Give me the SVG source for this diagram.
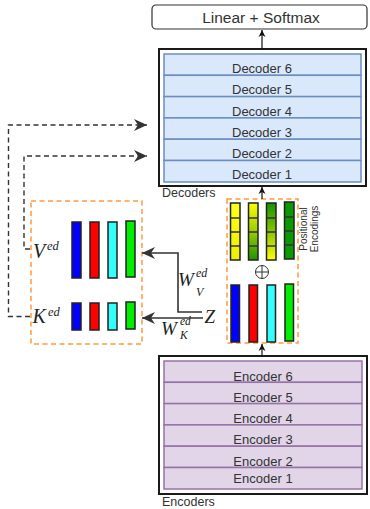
<svg xmlns="http://www.w3.org/2000/svg" width="370" height="509" viewBox="0 0 370 509">
  <defs>
    <style>
      .lbl { font-family: "Liberation Sans", Arial, sans-serif; fill: #333333; }
      .row { font-family: "Liberation Sans", Arial, sans-serif; font-size: 13px; fill: #333333; text-anchor: middle; }
      .math { font-family: "Liberation Serif", "Times New Roman", serif; font-style: italic; fill: #222222; }
      .outer { fill: #ffffff; stroke: #1a1a1a; stroke-width: 2; }
      .dec { fill: #dae8fc; stroke: #6c8ebf; stroke-width: 1.5; }
      .enc { fill: #e1d5e7; stroke: #9673a6; stroke-width: 1.5; }
      .grp { fill: none; stroke: #ff9a3c; stroke-width: 1.5; stroke-dasharray: 5 3.5; }
      .bar { stroke: #222222; stroke-width: 1.5; }
      .cell { stroke: #333333; stroke-width: 1.5; }
      .dash { fill: none; stroke: #333333; stroke-width: 1.4; stroke-dasharray: 5 3.5; }
      .solid { fill: none; stroke: #333333; stroke-width: 1.6; }
      .thin { fill: none; stroke: #111111; stroke-width: 1.2; }
    </style>
    <marker id="bigHead" markerUnits="userSpaceOnUse" markerWidth="14" markerHeight="12" refX="13" refY="6" orient="auto">
      <path d="M0,0 L13,6 L0,12 L4,6 Z" fill="#333333"/>
    </marker>
    <marker id="smallHead" markerUnits="userSpaceOnUse" markerWidth="8" markerHeight="8" refX="7" refY="4" orient="auto">
      <path d="M0,0.5 L7,4 L0,7.5 L2,4 Z" fill="#111111"/>
    </marker>
    <linearGradient id="gYellow" x1="0" y1="0" x2="0" y2="1">
      <stop offset="0" stop-color="#ffff1a"/>
      <stop offset="1" stop-color="#eeee00"/>
    </linearGradient>
    <linearGradient id="gYtoG" x1="0" y1="0" x2="0" y2="1">
      <stop offset="0" stop-color="#ffff00"/>
      <stop offset="0.5" stop-color="#99cc00"/>
      <stop offset="1" stop-color="#1f9400"/>
    </linearGradient>
    <linearGradient id="gGtoY" x1="0" y1="0" x2="0" y2="1">
      <stop offset="0" stop-color="#139400"/>
      <stop offset="0.5" stop-color="#88c400"/>
      <stop offset="1" stop-color="#ffff00"/>
    </linearGradient>
  </defs>

  <!-- output head -->
  <g id="linear-softmax">
    <rect x="152" y="5" width="215" height="24" rx="4" fill="#ffffff" stroke="#333333" stroke-width="1.2"/>
    <text class="lbl" x="261" y="23" font-size="15.5" text-anchor="middle">Linear + Softmax</text>
  </g>

  <!-- decoder stack -->
  <g id="decoders">
    <rect class="outer" x="159" y="49" width="207" height="137"/>
    <rect class="dec" x="164" y="54" width="197" height="21.3"/>
    <rect class="dec" x="164" y="75.3" width="197" height="21.3"/>
    <rect class="dec" x="164" y="96.6" width="197" height="21.3"/>
    <rect class="dec" x="164" y="117.9" width="197" height="21.3"/>
    <rect class="dec" x="164" y="139.2" width="197" height="21.3"/>
    <rect class="dec" x="164" y="160.5" width="197" height="21.5"/>
    <text class="row" x="262" y="72.5">Decoder 6</text>
    <text class="row" x="262" y="94">Decoder 5</text>
    <text class="row" x="262" y="115.5">Decoder 4</text>
    <text class="row" x="262" y="136.5">Decoder 3</text>
    <text class="row" x="262" y="158">Decoder 2</text>
    <text class="row" x="262" y="179">Decoder 1</text>
    <text class="lbl" x="162" y="197" font-size="12.5">Decoders</text>
  </g>

  <!-- encoder stack -->
  <g id="encoders">
    <rect class="outer" x="159" y="356" width="208" height="138"/>
    <rect class="enc" x="164" y="361" width="198" height="21.3"/>
    <rect class="enc" x="164" y="382.3" width="198" height="21.3"/>
    <rect class="enc" x="164" y="403.6" width="198" height="21.3"/>
    <rect class="enc" x="164" y="424.9" width="198" height="21.3"/>
    <rect class="enc" x="164" y="446.2" width="198" height="21.3"/>
    <rect class="enc" x="164" y="467.5" width="198" height="21.5"/>
    <text class="row" x="263" y="381">Encoder 6</text>
    <text class="row" x="263" y="402.3">Encoder 5</text>
    <text class="row" x="263" y="423.3">Encoder 4</text>
    <text class="row" x="263" y="444.3">Encoder 3</text>
    <text class="row" x="263" y="465.5">Encoder 2</text>
    <text class="row" x="263" y="483.3">Encoder 1</text>
    <text class="lbl" x="162" y="506" font-size="12.5">Encoders</text>
  </g>

  <!-- encoder output plus positional encodings -->
  <g id="positional-block">
    <rect class="grp" x="227" y="199" width="71" height="144"/>
    <!-- positional encoding columns -->
    <rect class="bar" x="230.5" y="203" width="9.5" height="57" fill="url(#gYellow)"/>
    <rect class="bar" x="248.5" y="203" width="9.5" height="57" fill="url(#gYtoG)"/>
    <rect class="bar" x="266.5" y="203" width="9.5" height="57" fill="url(#gGtoY)"/>
    <rect class="bar" x="284.5" y="202" width="9.5" height="57" fill="#0a9a00"/>
    <path class="cell" d="M231,218 H240 M231,232 H240 M231,246 H240
                          M249,218 H258 M249,232 H258 M249,246 H258
                          M267,218 H276 M267,232 H276 M267,246 H276
                          M285,217 H294 M285,231 H294 M285,245 H294"/>
    <!-- addition sign -->
    <circle cx="262" cy="272" r="6.5" fill="none" stroke="#333333" stroke-width="1"/>
    <path d="M255.5,272 H268.5 M262,265.5 V278.5" stroke="#333333" stroke-width="1"/>
    <!-- encoder output columns -->
    <rect class="bar" x="231" y="285" width="8.5" height="57" fill="#0000ff"/>
    <rect class="bar" x="249" y="285" width="8.5" height="57" fill="#ff0000"/>
    <rect class="bar" x="267" y="285" width="8.5" height="57" fill="#33ffff"/>
    <rect class="bar" x="285" y="284" width="8.5" height="57" fill="#00ee00"/>
    <text class="lbl" font-size="10" text-anchor="middle" transform="translate(307,229) rotate(-90)">Positional</text>
    <text class="lbl" font-size="10" text-anchor="middle" transform="translate(317.5,229) rotate(-90)">Encodings</text>
  </g>

  <!-- cross-attention keys and values -->
  <g id="kv-block">
    <rect class="grp" x="31" y="201" width="111" height="143"/>
    <rect class="bar" x="72" y="222" width="9" height="56" fill="#0000ff"/>
    <rect class="bar" x="90" y="222" width="9" height="56" fill="#ff0000"/>
    <rect class="bar" x="108" y="222" width="9" height="56" fill="#33ffff"/>
    <rect class="bar" x="126" y="221" width="9" height="56" fill="#00ee00"/>
    <rect class="bar" x="72" y="303" width="9" height="27" fill="#0000ff"/>
    <rect class="bar" x="90" y="303" width="9" height="27" fill="#ff0000"/>
    <rect class="bar" x="108" y="303" width="9" height="27" fill="#33ffff"/>
    <rect class="bar" x="126" y="302" width="9" height="27" fill="#00ee00"/>
    <text class="math" x="33" y="257.5" font-size="20">V</text>
    <text class="math" x="47" y="250" font-size="12.5">ed</text>
    <text class="math" x="32.5" y="322.5" font-size="20">K</text>
    <text class="math" x="48" y="315.5" font-size="12.5">ed</text>
  </g>

  <!-- projection source -->
  <g id="z-source">
    <text class="math" x="204.5" y="323" font-size="19">Z</text>
    <text class="math" x="178" y="285.5" font-size="19">W</text>
    <text class="math" x="196" y="277" font-size="12">ed</text>
    <text class="math" x="196" y="296" font-size="12">V</text>
    <text class="math" x="161" y="335" font-size="19">W</text>
    <text class="math" x="180" y="325" font-size="11.5">ed</text>
    <text class="math" x="180" y="339" font-size="11.5">K</text>
  </g>

  <!-- connectors -->
  <g id="connectors">
    <path class="thin" d="M262,49 V30" marker-end="url(#smallHead)"/>
    <path class="thin" d="M262,199 V187" marker-end="url(#smallHead)"/>
    <path class="thin" d="M262,355 V344" marker-end="url(#smallHead)"/>
    <path class="dash" d="M30,316.5 H8.5 V125 H147" marker-end="url(#bigHead)"/>
    <path class="dash" d="M30,249 H24 V156 H147" marker-end="url(#bigHead)"/>
    <path class="solid" d="M202,312 H178 V253 H142" marker-end="url(#bigHead)"/>
    <path class="solid" d="M203,318 H142" marker-end="url(#bigHead)"/>
  </g>
</svg>
